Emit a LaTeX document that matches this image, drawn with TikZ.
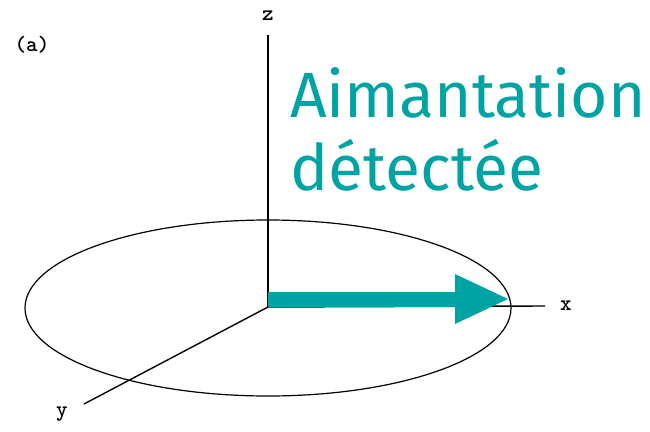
\documentclass[tikz,border=0pt]{standalone}
\usepackage{fontspec}
\newfontfamily\labfont{Fira Sans}
\definecolor{tealc}{HTML}{00A3A3}
\begin{document}
\begin{tikzpicture}[x=1pt,y=-1pt,
  axis/.style={line width=1.4pt,black},
  axlab/.style={font=\ttfamily\bfseries\fontsize{22}{22}\selectfont,inner sep=0pt},
  big/.style={font=\labfont\fontsize{64}{64}\selectfont,text=tealc,inner sep=0pt,anchor=base west}]
\useasboundingbox (0,0) rectangle (650,431);
\coordinate (O) at (268,307);
\coordinate (zend) at (268,35);
\coordinate (xend) at (545,306);
\coordinate (yend) at (84,404);
\coordinate (astart) at (268,299);
\coordinate (aend) at (508,299);
\draw[line width=1.2pt] (268,308) ellipse [x radius=243, y radius=88];
\draw[axis] (O) -- (zend);
\draw[axis] (O) -- (xend);
\draw[axis] (O) -- (yend);
\node[axlab] (zl) at (268,16) {z};
\node[axlab] (xl) at (566,306) {x};
\node[axlab] (yl) at (62,414) {y};
\node[axlab] (al) at (32,45) {(a)};
\draw[tealc,line width=15pt] (astart) -- (460,299);
\fill[tealc] (aend) -- (455,274) -- (455,324) -- cycle;
\node[big] (t1) at (290,117) {Aimantation};
\node[big] (t2) at (290,190) {détectée};
\end{tikzpicture}
\end{document}
